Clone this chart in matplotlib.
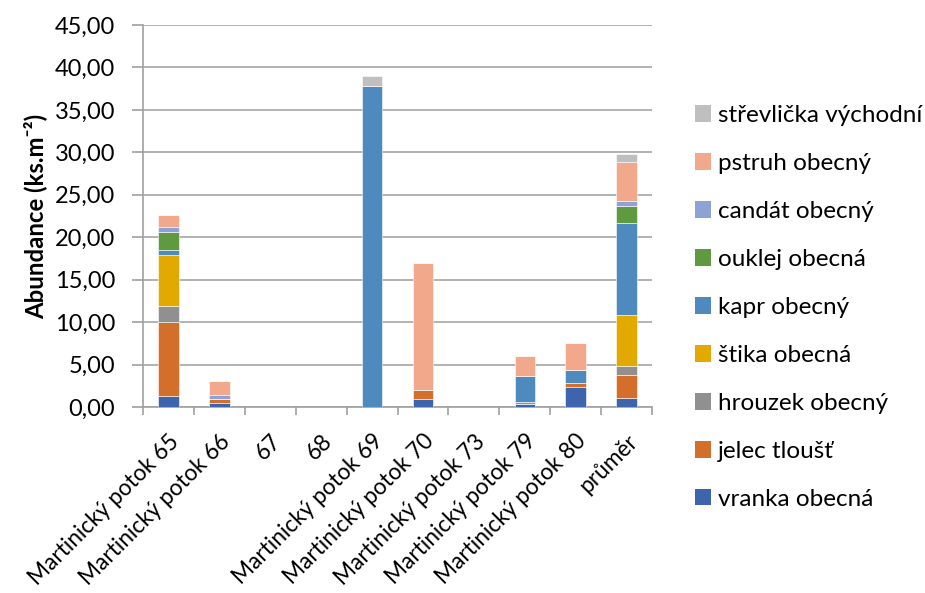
import matplotlib
matplotlib.use("Agg")
import matplotlib.pyplot as plt
import numpy as np
from matplotlib.patches import Patch

plt.rcParams['font.family'] = ['Lato', 'DejaVu Sans']

sites = ["Martinický potok 65", "Martinický potok 66", "67", "68",
         "Martinický potok 69", "Martinický potok 70", "Martinický potok 73",
         "Martinický potok 79", "Martinický potok 80", "průměr"]

species = ["vranka obecná", "jelec tloušť", "hrouzek obecný", "štika obecná",
           "kapr obecný", "ouklej obecná", "candát obecný", "pstruh obecný",
           "střevlička východní"]

vranka     = [1.30, 0.51, 0, 0, 0.00, 0.98, 0, 0.31, 2.40, 1.10]
jelec      = [8.66, 0.43, 0, 0, 0.00, 1.03, 0, 0.00, 0.40, 2.64]
hrouzek    = [1.89, 0.00, 0, 0, 0.00, 0.00, 0, 0.28, 0.00, 1.14]
stika      = [6.10, 0.00, 0, 0, 0.00, 0.00, 0, 0.00, 0.00, 5.99]
kapr       = [0.59, 0.00, 0, 0, 37.83, 0.00, 0, 3.11, 1.57, 10.78]
ouklej     = [2.05, 0.00, 0, 0, 0.00, 0.00, 0, 0.00, 0.00, 2.01]
candat     = [0.67, 0.51, 0, 0, 0.00, 0.00, 0, 0.00, 0.00, 0.55]
pstruh     = [1.30, 1.58, 0, 0, 0.00, 14.92, 0, 2.28, 3.19, 4.65]
strevlicka = [0.00, 0.00, 0, 0, 1.15, 0.00, 0, 0.00, 0.00, 0.98]

series = [vranka, jelec, hrouzek, stika, kapr, ouklej, candat, pstruh, strevlicka]
colors = ["#3E64AD", "#D46E2B", "#909090", "#E2A900", "#4F8ABE",
          "#5F9A41", "#8EA2D5", "#F2A98B", "#BFBFBF"]

W, H = 925, 593
fig = plt.figure(figsize=(W / 100, H / 100), dpi=100)
left, right, top, bottom_px = 143, 652, 25, 407
ax = fig.add_axes([left / W, 1 - bottom_px / H, (right - left) / W,
                   (bottom_px - top) / H])

x = np.arange(len(sites))
base = np.zeros(len(sites))
for vals, col in zip(series, colors):
    v = np.array(vals, dtype=float)
    ax.bar(x, v, width=0.40, bottom=base, color=col,
           edgecolor="white", linewidth=0.4, zorder=3)
    base += v

ax.set_xlim(-0.5, len(sites) - 0.5)
ax.set_ylim(0, 45)
yt = np.arange(0, 46, 5)
ax.set_yticks(yt)
ax.set_yticklabels([f"{t:.2f}".replace(".", ",") for t in yt], fontsize=17)
ax.yaxis.grid(True, color="#A6A6A6", linewidth=1.2, zorder=0)
ax.set_axisbelow(True)
ax.tick_params(axis="y", length=8, width=1.2, color="#A0A0A0", pad=12)

ax.set_xticks(x)
ax.set_xticklabels(sites, rotation=45, ha="right", va="top",
                   rotation_mode="anchor", fontsize=16.3)
ax.tick_params(axis="x", which="major", length=0, pad=17)
ax.set_xticks(np.arange(-0.5, len(sites)), minor=True)
ax.tick_params(axis="x", which="minor", length=6, color="#A0A0A0", width=1.2,
               direction="out")

for side in ["top", "right"]:
    ax.spines[side].set_visible(False)
for side in ["left", "bottom"]:
    ax.spines[side].set_color("#A0A0A0")
    ax.spines[side].set_linewidth(1.2)

ax.set_ylabel("Abundance (ks.m⁻²)", fontsize=17.2, fontweight="bold")
ax.yaxis.set_label_coords((47 - left) / (right - left), 0.5)

handles = [Patch(facecolor=c, edgecolor="none") for c in colors][::-1]
fig.legend(handles, species[::-1], loc="upper left",
           bbox_to_anchor=(695 / W, 1 - 105 / H), frameon=False,
           fontsize=17.5, handlelength=0.66, handleheight=0.66,
           handletextpad=0.3, labelspacing=1.11, borderaxespad=0,
           borderpad=0)

fig.savefig("out.png", dpi=100)
